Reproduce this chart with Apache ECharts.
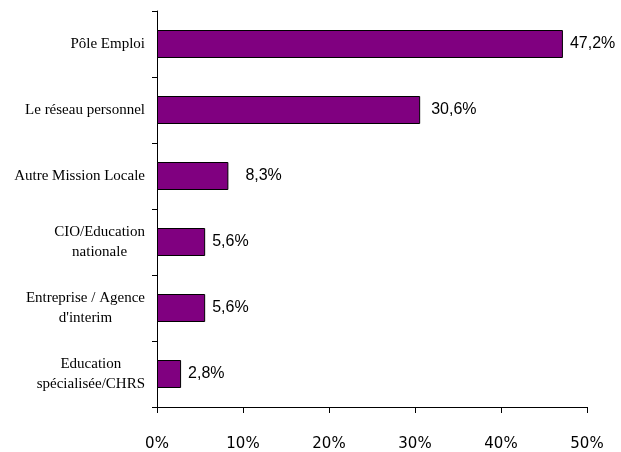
<!DOCTYPE html>
<html>
<head>
<meta charset="utf-8">
<script src="https://cdn.jsdelivr.net/npm/echarts@6/dist/echarts.min.js"></script>
<style>html,body{margin:0;padding:0;background:#fff;}#c{width:621px;height:452px;}</style>
</head>
<body>
<div id="c"></div>
<script>
var categories = ["Pôle Emploi", "Le réseau personnel", "Autre Mission Locale", "CIO/Education\nnationale", "Entreprise / Agence\nd'interim", "Education\nspécialisée/CHRS"];
var values = [47.2, 30.6, 8.3, 5.6, 5.6, 2.8];
var valueLabels = ["47,2%", "30,6%", "8,3%", "5,6%", "5,6%", "2,8%"];
var tickLabels = ["0%", "10%", "20%", "30%", "40%", "50%"];
var labelGaps = [7, 11, 17, 7, 7, 7];

var chart = echarts.init(document.getElementById('c'));
chart.setOption({
  animation: false,
  backgroundColor: '#fff',
  grid: { left: 157, right: 34, top: 11, bottom: 42, containLabel: false },
  xAxis: {
    type: 'value', min: 0, max: 50, interval: 10,
    axisLine: { show: true, lineStyle: { color: '#000', width: 1 } },
    axisTick: { show: true, length: 6, lineStyle: { color: '#000' } },
    splitLine: { show: false },
    axisLabel: {
      margin: 30, color: '#000', fontFamily: 'DejaVu Sans', fontSize: 15,
      formatter: function (v) { return tickLabels[Math.round(v / 10)]; }
    }
  },
  yAxis: {
    type: 'category', inverse: true, data: categories,
    axisLine: { show: true, lineStyle: { color: '#000', width: 1 } },
    axisTick: { show: true, length: 5, lineStyle: { color: '#000' } },
    axisLabel: {
      margin: 12, color: '#000', fontFamily: 'Liberation Serif', fontSize: 15, lineHeight: 20,
      formatter: function (v) {
        return v.split('\n').map(function (s) { return '{c|' + s + '}'; }).join('\n');
      },
      rich: { c: { align: 'center', fontFamily: 'Liberation Serif', fontSize: 15, color: '#000', lineHeight: 20 } }
    }
  },
  series: [{
    type: 'bar',
    barWidth: 28,
    data: values.map(function (v, i) {
      return { value: v, label: { distance: labelGaps[i] } };
    }),
    itemStyle: { color: '#800080', borderColor: '#000', borderWidth: 1 },
    label: {
      show: true, position: 'right', color: '#000',
      fontFamily: 'Liberation Sans', fontSize: 16,
      formatter: function (p) { return valueLabels[p.dataIndex]; }
    }
  }]
});
</script>
</body>
</html>
